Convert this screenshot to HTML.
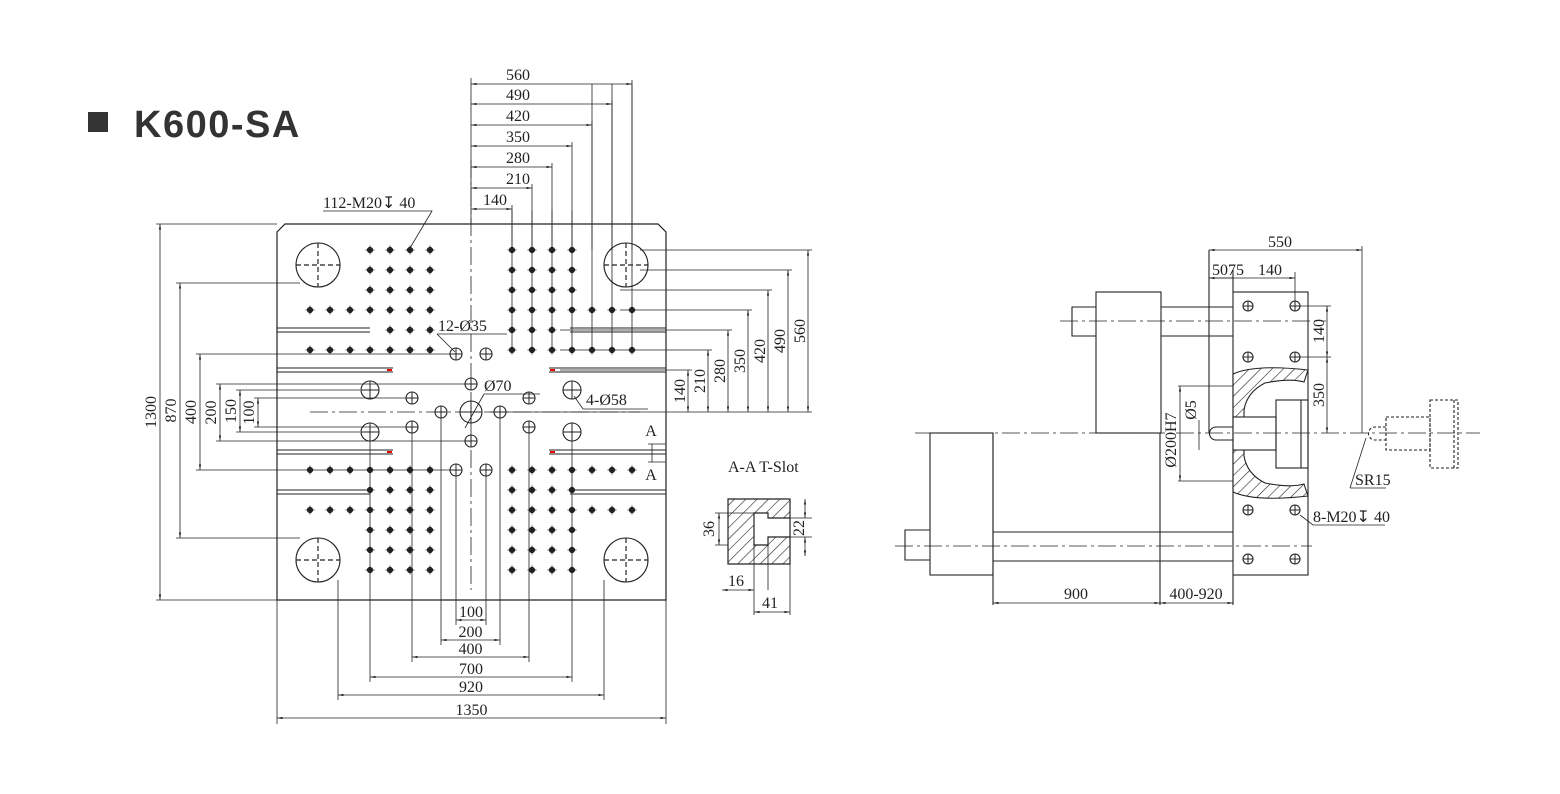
<!DOCTYPE html>
<html><head><meta charset="utf-8"><style>
html,body{margin:0;padding:0;background:#fff;width:1560px;height:794px;overflow:hidden}
svg{position:absolute;left:0;top:0}
.t{font-family:"Liberation Serif",serif;font-size:16px;fill:#222}
</style></head><body>
<svg id="s" width="1560" height="794" viewBox="0 0 1560 794" xmlns="http://www.w3.org/2000/svg" stroke="#222" stroke-width="1" fill="none">
<defs>
<pattern id="h" width="8" height="8" patternUnits="userSpaceOnUse" patternTransform="rotate(45)"><line x1="0" y1="0" x2="0" y2="8" stroke="#222" stroke-width="1.2"/></pattern>
<marker id="a" viewBox="0 0 10 10" refX="10" refY="5" markerWidth="7" markerHeight="7" orient="auto-start-reverse"><path d="M0,3L10,5L0,7z" fill="#222" stroke="none"/></marker>
</defs>
<rect x="88" y="112" width="20" height="20" fill="#333" stroke="none"/>
<text x="134" y="137" font-family="Liberation Sans,sans-serif" font-size="38" font-weight="bold" fill="#333" stroke="none" letter-spacing="1.5">K600-SA</text>
<!-- plate -->
<path d="M285,224H658L666,232V600H277V232Z" stroke-width="1.2"/>
<g id="g"></g>
<!-- T-slot -->
<path d="M728,499H790V564H728Z M754,513H768V518H790V537H768V545H754Z" fill="url(#h)" fill-rule="evenodd" stroke-width="1.2"/>
<text class="t" x="728" y="472" font-size="11" stroke="none">A-A T-Slot</text>
<!-- right machine -->
<g stroke-width="1.1">
<rect x="1096" y="292" width="65" height="141"/>
<path d="M1096,307H1072V336H1096M1161,307H1233M1161,336H1233"/>
<rect x="930" y="433" width="63" height="142"/>
<path d="M930,530H905V560H930M993,532H1233M993,561H1233"/>
<path d="M993,433V605M1160,433V605M1233,575V605"/>
<rect x="1233" y="292" width="75" height="283"/>
<path d="M1233,374Q1255,364 1308,370L1304,382Q1290,378 1265,383Q1247,392 1244,410V417H1233Z" fill="url(#h)"/>
<path d="M1233,492Q1255,502 1308,496L1304,484Q1290,488 1265,483Q1247,474 1244,456V450H1233Z" fill="url(#h)"/>
<rect x="1233" y="417" width="43" height="33"/>
<rect x="1276" y="400" width="32" height="68"/>
<path d="M1301,400V468"/>
<path d="M1233,427H1216A6.5,6.5 0 0 0 1216,440H1233"/>
<path d="M1209,250V433M1233,270V292"/>
<path d="M1386,427H1375A6.5,6.5 0 0 0 1375,440H1386" stroke-dasharray="3,2"/>
<rect x="1386" y="417" width="44" height="33" stroke-dasharray="3,2"/>
<rect x="1430" y="400" width="28" height="68" stroke-dasharray="3,2"/>
<path d="M1454,400V468" stroke-dasharray="3,2"/>
</g>
<g stroke-width="0.8" stroke-dasharray="18,4,3,4">
<path d="M915,433H1480M1060,321H1326M895,546H1312M310,412H640M471,160V590"/>
</g>
<g id="d"></g>
</svg>
<script>
var g=document.getElementById('g'),d=document.getElementById('d'),NS='http://www.w3.org/2000/svg';
function el(p,tag,at,txt){var e=document.createElementNS(NS,tag);for(var k in at)e.setAttribute(k,at[k]);if(txt)e.textContent=txt;p.appendChild(e);return e;}
function dot(x,y){el(g,'circle',{cx:x,cy:y,r:2.6,fill:'#222'});el(g,'path',{d:'M'+(x-4.5)+','+y+'h9M'+x+','+(y-4.5)+'v9','stroke-width':0.8});}
function hole(x,y,r){el(g,'circle',{cx:x,cy:y,r:r,'stroke-width':1.1});el(g,'path',{d:'M'+(x-r)+','+y+'h'+2*r+'M'+x+','+(y-r)+'v'+2*r,'stroke-width':1});}
function line(p,s){el(d,'path',{d:p,'stroke-width':s||0.8});}
function dim(x1,y1,x2,y2){el(d,'path',{d:'M'+x1+','+y1+'L'+x2+','+y2,'marker-start':'url(#a)','marker-end':'url(#a)','stroke-width':0.8});}
function tx(x,y,s,rot,anchor){var a={x:x,y:y,'class':'t',stroke:'none','text-anchor':anchor||'middle'};if(rot)a.transform='rotate(-90 '+x+' '+y+')';el(d,'text',a,s);}
[[318,265],[626,265],[318,560],[626,560]].forEach(function(c){el(g,'circle',{cx:c[0],cy:c[1],r:22,'stroke-width':1.1});el(g,'path',{d:'M'+(c[0]-22)+','+c[1]+'h44M'+c[0]+','+(c[1]-22)+'v44','stroke-dasharray':'5,3','stroke-width':1.2});});
var X=[310,330,350,370,390,410,430],XR=[512,532,552,572,592,612,632];
[250,270,290].forEach(function(y){[370,390,410,430].forEach(function(x){dot(x,y)});[512,532,552,572].forEach(function(x){dot(x,y)});});
X.forEach(function(x){dot(x,310);dot(x,350)});[390,410,430].forEach(function(x){dot(x,330)});
XR.forEach(function(x){dot(x,310);dot(x,350)});[512,532,552].forEach(function(x){dot(x,330)});
[470,510].forEach(function(y){X.forEach(function(x){dot(x,y)});XR.forEach(function(x){dot(x,y)});});
[490,530,550,570].forEach(function(y){[370,390,410,430].forEach(function(x){dot(x,y)});[512,532,552,572].forEach(function(x){dot(x,y)});});
// grid lines in upper-right
[512,532,552,572].forEach(function(x){el(g,'path',{d:'M'+x+',210V350','stroke-width':0.8});});
[592,612,632].forEach(function(x){el(g,'path',{d:'M'+x+',84V350','stroke-width':0.8});});
[[277,370,330],[570,666,330],[277,393,370],[549,666,370],[277,393,452],[549,666,452],[277,370,492],[570,666,492]].forEach(function(s){el(g,'path',{d:'M'+s[0]+','+(s[2]-2)+'H'+s[1]+'M'+s[0]+','+(s[2]+2)+'H'+s[1],'stroke-width':0.9});});
[[391,370],[391,452]].forEach(function(p){el(g,'path',{d:'M'+(p[0]-4)+','+p[1]+'h5',stroke:'#e00','stroke-width':2});});
[[551,370],[551,452]].forEach(function(p){el(g,'path',{d:'M'+(p[0]-1)+','+p[1]+'h5',stroke:'#e00','stroke-width':2});});
[[456,354],[486,354],[456,470],[486,470],[471,384],[471,441],[412,398],[412,427],[529,398],[529,427],[441,412],[500,412]].forEach(function(c){hole(c[0],c[1],6)});
hole(471,412,11);[[370,390],[370,432],[572,390],[572,432]].forEach(function(c){hole(c[0],c[1],9)});
[[1248,306],[1295,306],[1248,357],[1295,357],[1248,510],[1295,510],[1248,559],[1295,559]].forEach(function(c){hole(c[0],c[1],5)});
var tops=[[632,84,'560'],[612,104,'490'],[592,125,'420'],[572,146,'350'],[552,167,'280'],[532,188,'210'],[512,209,'140']];
line('M471,78V224');
tops.forEach(function(t){line('M'+t[0]+','+(t[1]-4)+'V250');dim(471,t[1],t[0],t[1]);tx(t[0]==512?495:518,t[1]-4,t[2]);});
var rts=[[808,250,'560'],[788,270,'490'],[768,290,'420'],[748,310,'350'],[728,330,'280'],[708,350,'210'],[688,370,'140']];
line('M490,412H812');
rts.forEach(function(r,i){line('M'+(i<2?640:(i<4?620:560))+','+r[1]+'H'+(r[0]+4));dim(r[0],r[1],r[0],412);tx(r[0]-3,(r[1]+412)/2,r[2],1);});
line('M156,224H277M156,600H277M176,283H300M176,538H300M196,354H450M196,470H450M216,384H465M216,441H465M236,390H360M236,432H360M254,398H406M254,427H406');
[[160,224,600,'1300'],[180,283,538,'870'],[200,354,470,'400'],[220,384,441,'200'],[240,390,432,'150'],[258,398,427,'100']].forEach(function(l){dim(l[0],l[1],l[0],l[2]);tx(l[0]-4,(l[1]+l[2])/2,l[3],1);});
line('M277,600V724M666,600V724M338,580V700M604,580V700M370,440V682M572,440V682M412,430V662M529,430V662M441,418V645M500,418V645M456,476V625M486,476V625');
[[620,456,486,'100'],[640,441,500,'200'],[657,412,529,'400'],[677,370,572,'700'],[695,338,604,'920'],[718,277,666,'1350']].forEach(function(b){dim(b[1],b[0],b[2],b[0]);tx((b[1]+b[2])/2,b[0]-3,b[3]);});
line('M323,211H432L410,248');tx(323,208,'112-M20\u21a7 40','','start');
line('M437,334H507M437,334L455,352');tx(438,331,'12-\u00d835','','start');
line('M484,394H540M484,394L465,428');tx(484,391,'\u00d870','','start');
line('M583,409H648M583,409L574,396');tx(586,405,'4-\u00d858','','start');
line('M648,444H666M648,462H666M652,444V462');tx(651,436,'A');tx(651,480,'A');
line('M715,513H754M715,545H728M790,518H812M790,537H812M754,545V615M768,545V590M790,564V615');
dim(719,513,719,545);tx(714,529,'36',1);dim(805,499,805,518);dim(805,537,805,556);tx(804,528,'22',1);
dim(722,590,754,590);tx(736,586,'16');dim(754,612,790,612);tx(770,608,'41');
dim(1209,250,1362,250);tx(1280,247,'550');line('M1362,246V433');
dim(1209,278,1295,278);tx(1228,275,'5075');tx(1270,275,'140');line('M1295,272V306M1209,278H1233');
line('M1300,306H1331M1300,357H1331');dim(1327,306,1327,357);tx(1324,331,'140',1);dim(1327,357,1327,433);tx(1324,395,'350',1);
line('M1178,386H1233M1178,481H1233');dim(1180,386,1180,481);tx(1176,440,'\u00d8200H7',1);
line('M1199,420V450');tx(1196,410,'\u00d85',1);
line('M1350,488H1386M1350,488L1366,438');tx(1355,485,'SR15','','start');
line('M1300,515L1313,525H1385');tx(1313,522,'8-M20\u21a7 40','','start');
dim(993,603,1160,603);tx(1076,599,'900');dim(1160,603,1233,603);tx(1196,599,'400-920');
</script>
</body></html>
